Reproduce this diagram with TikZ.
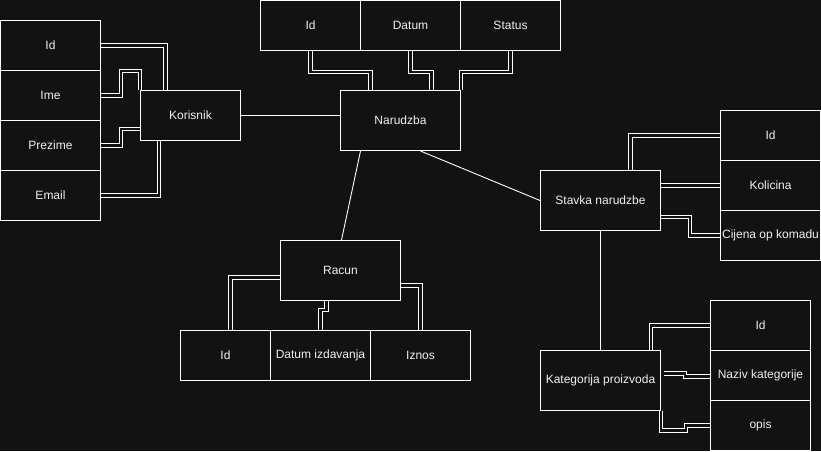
\documentclass[tikz,border=0pt]{standalone}
\usepackage{fontspec}
\setmainfont{Liberation Sans}
\usetikzlibrary{backgrounds}
\definecolor{bgc}{HTML}{121212}
\definecolor{txt}{HTML}{F0F0F0}

\begin{document}
\begin{tikzpicture}[x=1pt,y=-1pt,
  box/.style={draw=white, line width=1pt, fill=bgc, text=txt, inner sep=0pt,
    font=\fontsize{12}{14}\selectfont, minimum width=100pt, minimum height=50pt},
  ent/.style={box, minimum width=120pt, minimum height=60pt},
  dbl/.style={draw=white, line width=0.9pt, double=bgc, double distance=2.4pt},
  rel/.style={draw=white, line width=0.9pt}]
\useasboundingbox (-0.5,-0.5) rectangle (820.5,450.5);
\begin{scope}[on background layer]
\fill[bgc] (-0.5,-0.5) rectangle (820.5,450.5);
\end{scope}
\node[box] (kid) at (50,45) {Id};
\node[box] (kime) at (50,95) {Ime};
\node[box] (kprez) at (50,145) {Prezime};
\node[box] (kmail) at (50,195) {Email};
\node[box] (kor) at (190,115) {Korisnik};
\node[ent] (nar) at (400,120) {Narudzba};
\node[box] (nid) at (310,25) {Id};
\node[box] (ndat) at (410,25) {Datum};
\node[box] (nstat) at (510,25) {Status};
\node[ent] (stav) at (600,200) {Stavka narudzbe};
\node[box] (sid) at (770,135) {Id};
\node[box] (skol) at (770,185) {Kolicina};
\node[box] (scij) at (770,235) {Cijena op komadu};
\node[ent] (rac) at (340,270) {Racun};
\node[box, minimum width=90pt] (rid) at (225,355) {Id};
\node[box] (rdat) at (320,355) {Datum izdavanja};
\node[box] (riz) at (420,355) {Iznos};
\node[ent] (kat) at (600,380) {Kategorija proizvoda};
\node[box] (kaid) at (760,325) {Id};
\node[box] (kanaz) at (760,375) {Naziv kategorije};
\node[box] (kaopis) at (760,425) {opis};
\begin{scope}[on background layer]
\draw[dbl] (kid.east) -| ([xshift=-25pt]kor.north);
\draw[dbl] (kime.east) -- ++(20,0) |- ([yshift=19pt]kor.north west) -- (kor.north west);
\draw[dbl] (kprez.east) -- ++(20,0) |- ([yshift=12pt]kor.south west);
\draw[dbl] (kmail.east) -| ([xshift=19pt]kor.south west);
\draw[rel] (kor.east) -- (kor.east -| nar.west);
\draw[dbl] (nid.south) -- ++(0,21) -| ([xshift=-30pt]nar.north);
\draw[dbl] (ndat.south) -- ++(0,21) -| ([xshift=31pt]nar.north);
\draw[dbl] (nstat.south) -- ++(0,21) -| (nar.north east);
\draw[rel] ([xshift=-40pt]nar.south) -- ([xshift=1pt]rac.north);
\draw[rel] ([xshift=20pt]nar.south) -- (stav.west);
\draw[dbl] (sid.west) -| ([xshift=30pt]stav.north);
\draw[dbl] (skol.west) -- (skol.west -| stav.east);
\draw[dbl] (scij.west) -- ++(-30,0) |- ([yshift=14pt]stav.south east);
\draw[rel] (stav.south) -- (kat.north);
\draw[dbl] (kaid.west) -| ([xshift=-10pt]kat.north east);
\draw[dbl] ([yshift=-1pt]kanaz.west) -- ++(-25,0) |- ([xshift=3pt,yshift=7pt]kat.east);
\draw[dbl] (kaopis.west) -- ++(-24,0) -- ++(0,5) -| (kat.south east);
\draw[dbl] ([xshift=5pt]rid.north) |- ([yshift=-7pt]rac.west);
\draw[dbl] (rdat.north) -- ++(0,-20) -| ([xshift=-14pt]rac.south);
\draw[dbl] (riz.north) |- ([yshift=-15pt]rac.east);
\end{scope}
\end{tikzpicture}
\end{document}
